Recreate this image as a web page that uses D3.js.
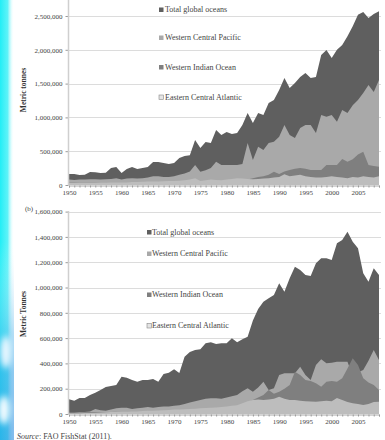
<!DOCTYPE html>
<html>
<head>
<meta charset="utf-8">
<script src="https://cdn.jsdelivr.net/npm/d3@7"></script>
<style>
  html, body { margin: 0; padding: 0; background: #fff; }
  svg { display: block; }
</style>
</head>
<body>
<svg id="chart" width="385" height="440"></svg>
<script>
// Catch by ocean area, 1950-2009 (metric tonnes)
const years = d3.range(1950, 2010);

const seriesNames = ["Total global oceans", "Western Central Pacific", "Western Indian Ocean", "Eastern Central Atlantic"];

// Panel (a)
const totalA = [163000,163000,148000,150000,192000,190000,178000,180000,251000,266000,
  178000,237000,266000,237000,251000,266000,340000,340000,325000,311000,
  325000,400000,429000,440000,666000,547000,636000,621000,814000,740000,
  784000,754000,769000,888000,1065000,917000,1065000,1036000,1213000,1257000,
  1405000,1583000,1435000,1509000,1598000,1657000,1583000,1598000,1923000,1997000,
  1880000,2000000,2070000,2200000,2350000,2520000,2560000,2470000,2530000,2570000];
const wcpA = [80000,75000,80000,80000,85000,85000,80000,85000,90000,100000,
  80000,95000,100000,95000,100000,110000,130000,130000,120000,120000,
  130000,150000,170000,200000,296000,197000,220000,251000,345000,296000,
  296000,296000,296000,310000,621000,370000,567000,518000,621000,640000,
  715000,888000,740000,695000,843000,888000,888000,769000,1036000,1011000,
  1036000,937000,1110000,1065000,1180000,1257000,1361000,1479000,1376000,1553000];
const wioA = [35000,35000,35000,35000,35000,35000,35000,35000,38000,38000,
  38000,38000,40000,40000,40000,40000,40000,40000,40000,40000,
  40000,42000,45000,48000,50000,50000,52000,55000,58000,60000,
  60000,65000,70000,75000,80000,100000,120000,130000,150000,197000,
  163000,200000,222000,240000,251000,240000,222000,222000,222000,296000,
  296000,296000,385000,345000,380000,450000,493000,296000,280000,270000];
const ecaA = [30000,30000,32000,32000,35000,35000,38000,38000,40000,42000,
  40000,42000,45000,45000,48000,50000,52000,52000,55000,58000,
  60000,62000,70000,80000,100000,60000,70000,80000,75000,70000,
  80000,90000,100000,95000,90000,85000,90000,95000,100000,110000,
  120000,160000,130000,140000,150000,130000,120000,110000,110000,120000,
  130000,120000,110000,100000,120000,110000,130000,120000,110000,130000];

// Panel (b)
const totalB = [116000,105000,126000,126000,150000,168000,190000,213000,221000,229000,
  295000,287000,269000,255000,269000,269000,277000,255000,316000,327000,
  353000,324000,453000,490000,506000,511000,559000,567000,553000,559000,
  559000,598000,567000,591000,611000,740000,830000,888000,915000,941000,
  1033000,967000,1073000,1164000,1138000,1099000,1091000,1191000,1231000,1231000,
  1217000,1349000,1375000,1441000,1362000,1310000,1112000,1046000,1152000,1099000];
const wcpB = [10000,10000,15000,15000,20000,40000,30000,25000,35000,45000,
  50000,50000,40000,45000,50000,55000,50000,55000,60000,60000,
  65000,70000,80000,90000,100000,110000,120000,125000,125000,120000,
  130000,140000,150000,180000,203000,176000,210000,255000,190000,203000,
  308000,322000,322000,322000,374000,308000,269000,387000,432000,401000,
  405000,413000,413000,413000,300000,330000,348000,420000,506000,427000];
const wioB = [12000,12000,12000,14000,14000,15000,15000,16000,16000,18000,
  18000,18000,20000,20000,20000,22000,22000,24000,24000,25000,
  25000,26000,28000,30000,32000,35000,38000,40000,42000,45000,
  50000,55000,60000,70000,87000,110000,130000,150000,190000,160000,
  176000,200000,229000,334000,308000,269000,260000,243000,216000,255000,
  260000,255000,282000,360000,440000,387000,282000,250000,229000,190000];
const ecaB = [5000,6000,6000,7000,8000,10000,12000,14000,16000,18000,
  20000,20000,22000,22000,24000,25000,26000,28000,30000,32000,
  35000,36000,38000,40000,42000,45000,48000,50000,52000,55000,
  60000,65000,70000,85000,100000,110000,115000,110000,115000,120000,
  137000,120000,111000,110000,105000,100000,98000,97000,100000,105000,
  100000,126000,110000,95000,85000,80000,71000,80000,95000,97000];

const ticksA = [0, 500000, 1000000, 1500000, 2000000, 2500000];
const ticksB = [0, 200000, 400000, 600000, 800000, 1000000, 1200000, 1400000, 1600000];
const xLabelYears = [1950, 1955, 1960, 1965, 1970, 1975, 1980, 1985, 1990, 1995, 2000, 2005];

const colors = ["#5f5f5f", "#a9a9a9", "#7f7f7f", "#bdbdbd"];
const serif = "'Liberation Serif', 'DejaVu Serif', serif";

const svg = d3.select("#chart");

// Photo strip on the left edge
const defs = svg.append("defs");
const g1 = defs.append("linearGradient").attr("id", "edge").attr("x1", 0).attr("x2", 1).attr("y1", 0).attr("y2", 0);
g1.append("stop").attr("offset", 0).attr("stop-color", "#22eef6");
g1.append("stop").attr("offset", 0.55).attr("stop-color", "#5ff3f8");
g1.append("stop").attr("offset", 1).attr("stop-color", "#ffffff").attr("stop-opacity", 0);
const g2 = defs.append("linearGradient").attr("id", "edgeV").attr("x1", 0).attr("x2", 0).attr("y1", 0).attr("y2", 1);
g2.append("stop").attr("offset", 0).attr("stop-color", "#ffffff").attr("stop-opacity", 0);
g2.append("stop").attr("offset", 0.55).attr("stop-color", "#ffffff").attr("stop-opacity", 0);
g2.append("stop").attr("offset", 0.8).attr("stop-color", "#3aa6e6").attr("stop-opacity", 0.55);
g2.append("stop").attr("offset", 1).attr("stop-color", "#2f8fe0").attr("stop-opacity", 0.6);
defs.append("filter").attr("id", "soft").append("feGaussianBlur").attr("stdDeviation", 3);

svg.append("rect").attr("x", 0).attr("y", 0).attr("width", 14).attr("height", 440).attr("fill", "url(#edge)");
svg.append("rect").attr("x", 0).attr("y", 0).attr("width", 14).attr("height", 440).attr("fill", "url(#edgeV)");
const blobs = svg.append("g").attr("filter", "url(#soft)");
blobs.append("ellipse").attr("cx", 6).attr("cy", 352).attr("rx", 6).attr("ry", 16).attr("fill", "#e8f6ff");
blobs.append("ellipse").attr("cx", 4).attr("cy", 410).attr("rx", 6).attr("ry", 14).attr("fill", "#f2fbff");

const x = d3.scaleLinear().domain([1950, 2009]).range([69, 379]);

function panel(cfg) {
  const y = d3.scaleLinear().domain([0, cfg.max]).range([cfg.y0, cfg.y1]);
  const g = svg.append("g");

  // gridlines
  g.append("g").selectAll("line").data(cfg.ticks.filter(d => d > 0)).join("line")
    .attr("x1", 69).attr("x2", 381)
    .attr("y1", d => Math.round(y(d)) + 0.5).attr("y2", d => Math.round(y(d)) + 0.5)
    .attr("stroke", "#dcdcdc").attr("stroke-width", 1);

  // overlapping areas, total drawn first
  const area = d3.area().x((d, i) => x(years[i])).y0(y(0)).y1(d => y(d));
  cfg.series.forEach((s, k) => {
    g.append("path").datum(s).attr("d", area).attr("fill", colors[k]);
  });

  // y axis
  const yAxis = d3.axisLeft(y).tickValues(cfg.ticks).tickSize(3).tickPadding(3)
    .tickFormat(d => d === 0 ? "0" : d3.format(",")(d));
  const ya = g.append("g").attr("transform", "translate(68.5,0)").call(yAxis);
  ya.select(".domain").remove();
  ya.selectAll(".tick line").attr("stroke", "#999");
  ya.selectAll("text").attr("font-family", serif).attr("font-size", 7).attr("fill", "#444");
  g.append("line").attr("x1", 68.5).attr("x2", 68.5).attr("y1", cfg.axisTop).attr("y2", y(0))
    .attr("stroke", "#cfcfcf").attr("stroke-width", 1.5);

  // x axis: a tick per year, label every five
  const xAxis = d3.axisBottom(x).tickValues(years).tickSize(2).tickPadding(3)
    .tickFormat(d => xLabelYears.includes(d) ? d : "");
  const xa = g.append("g").attr("transform", `translate(0,${y(0) + 0.5})`).call(xAxis);
  xa.select(".domain").attr("stroke", "#aaa");
  xa.selectAll(".tick line").attr("stroke", "#999");
  xa.selectAll("text").attr("font-family", serif).attr("font-size", 7).attr("fill", "#444");

  // axis title
  g.append("text")
    .attr("transform", `translate(${cfg.titleX},${cfg.titleY}) rotate(-90)`)
    .attr("text-anchor", "middle").attr("font-family", serif).attr("font-size", 7.5)
    .attr("font-weight", "bold").attr("fill", "#333").text(cfg.title);

  // legend
  const lg = g.append("g");
  cfg.legendY.forEach((ly, k) => {
    lg.append("rect").attr("x", cfg.legendX).attr("y", ly - 4.5).attr("width", 4.5).attr("height", 4.5)
      .attr("fill", k === 3 ? "#e4e4e4" : colors[k]).attr("stroke", k === 3 ? "#888" : "none").attr("stroke-width", 0.6);
    lg.append("text").attr("x", cfg.legendX + cfg.legendGap).attr("y", ly)
      .attr("font-family", serif).attr("font-size", 8).attr("fill", "#444").text(seriesNames[k]);
  });
}

panel({
  max: 2500000, y0: 185, y1: 16, axisTop: 0, ticks: ticksA,
  series: [totalA, wcpA, wioA, ecaA],
  title: "Metric tonnes", titleX: 26, titleY: 90,
  legendX: 159, legendGap: 6, legendY: [12, 40, 69.5, 99.5]
});

panel({
  max: 1600000, y0: 414, y1: 211.6, axisTop: 211, ticks: ticksB,
  series: [totalB, wcpB, wioB, ecaB],
  title: "Metric Tonnes", titleX: 26, titleY: 314,
  legendX: 147, legendGap: 5, legendY: [234.5, 256, 297, 328]
});

svg.append("text").attr("x", 25).attr("y", 211).attr("font-family", serif).attr("font-size", 7)
  .attr("fill", "#444").text("(b)");

const src = svg.append("text").attr("x", 17).attr("y", 438.5).attr("font-family", serif)
  .attr("font-size", 8).attr("fill", "#444");
src.append("tspan").attr("font-style", "italic").text("Source");
src.append("tspan").text(":  FAO FishStat (2011).");
</script>
</body>
</html>
